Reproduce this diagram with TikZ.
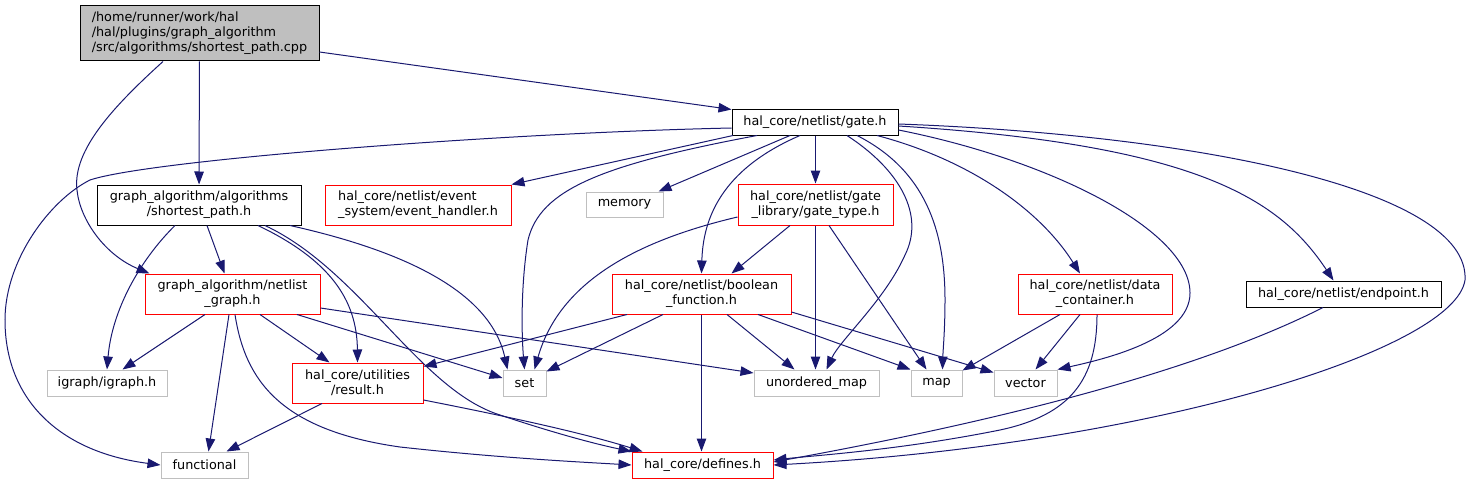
\documentclass[tikz,border=0pt]{standalone}
\usepackage{fontspec}
\setmainfont{DejaVu Sans}
\usetikzlibrary{arrows.meta,calc}

\definecolor{edgeblue}{RGB}{25,25,112}
\definecolor{boxgray}{RGB}{191,191,191}
\definecolor{hdrred}{RGB}{255,0,0}

\begin{document}
\begin{tikzpicture}[x=1pt,y=-1pt,
    file/.style={draw, rectangle, inner sep=0pt, line width=1pt, align=center,
        font=\fontsize{12.8}{15}\selectfont},
    known/.style={file, draw=black},
    partial/.style={file, draw=hdrred},
    system/.style={file, draw=boxgray},
    dep/.style={draw=edgeblue, line width=1pt, -{Triangle[length=13pt,width=9.5pt]}}]
    \useasboundingbox (0,0) rectangle (1474,484);

    % the source file and its headers
    \node[known, fill=boxgray, align=left, minimum width=239pt, minimum height=55pt] (cpp) at (199.5,33.5)
        {/home/runner/work/hal\\/hal/plugins/graph\_algorithm\\/src/algorithms/shortest\_path.cpp};
    \node[known, minimum width=166pt, minimum height=25pt] (gate) at (815,122.5) {hal\_core/netlist/gate.h};
    \node[known, minimum width=204pt, minimum height=40pt] (sp) at (199,205) {graph\_algorithm/algorithms\\/shortest\_path.h};
    \node[system, minimum width=77pt, minimum height=25pt] (memory) at (624.5,204.5) {memory};
    \node[partial, minimum width=155pt, minimum height=41pt] (gatetype) at (815.5,204.5) {hal\_core/netlist/gate\\\_library/gate\_type.h};
    \node[partial, minimum width=175pt, minimum height=40pt] (ng) at (232.5,294) {graph\_algorithm/netlist\\\_graph.h};
    \node[partial, minimum width=179pt, minimum height=40pt] (bool) at (701.5,294) {hal\_core/netlist/boolean\\\_function.h};
    \node[partial, minimum width=154pt, minimum height=40pt] (data) at (1095,294) {hal\_core/netlist/data\\\_container.h};
    \node[known, minimum width=195pt, minimum height=26pt] (endpoint) at (1343.5,294) {hal\_core/netlist/endpoint.h};
    \node[system, minimum width=120pt, minimum height=26pt] (igraph) at (107,383) {igraph/igraph.h};
    \node[partial, minimum width=131pt, minimum height=40pt] (result) at (357.5,383) {hal\_core/utilities\\/result.h};
    \node[system, minimum width=43pt, minimum height=26pt] (set) at (524.5,383) {set};
    \node[system, minimum width=125pt, minimum height=26pt] (umap) at (816.5,383) {unordered\_map};
    \node[system, minimum width=51pt, minimum height=26pt] (map) at (936.5,383) {map};
    \node[system, minimum width=63pt, minimum height=26pt] (vector) at (1025.5,383) {vector};
    \node[system, minimum width=87pt, minimum height=26pt] (functional) at (204.5,465) {functional};
    \node[partial, minimum width=141pt, minimum height=26pt] (defines) at (702.5,465) {hal\_core/defines.h};
    \node[partial, align=left, minimum width=186pt, minimum height=40pt] (evt) at (418,205)
        {hal\_core/netlist/event\\\_system/event\_handler.h};

    % includes of the source file
    \draw[dep] (cpp.east |- 0,52) -- (gate.north west);
    \draw[dep] (cpp) -- (sp);
    \draw[dep] (cpp.south -| 163,0) .. controls (115,105) and (72,150) .. (77,190)
        .. controls (80,220) and (105,255) .. ($(ng.north west)+(5,0)$);

    % includes of gate.h
    \draw[dep] (gate.west |- 0,128) .. controls (500,133) and (150,160) .. (90,180)
        .. controls (50,200) and (5,260) .. (5,320) .. controls (5,400) and (60,452) .. (functional.west);
    \draw[dep] (gate.south -| 733,0) -- (evt.north east);
    \draw[dep] (gate.south -| 790,0) -- ($(memory.north east)+(-5,0)$);
    \draw[dep] (gate.south -| 757,0) .. controls (600,165) and (540,190) .. (528,240)
        .. controls (520,290) and (522,340) .. (set.north);
    \draw[dep] (gate.south -| 800,0) .. controls (720,170) and (703,220) .. (bool.north);
    \draw[dep] (gate.south -| 815.5,0) -- (gatetype.north);
    \draw[dep] (gate.south -| 847,0) .. controls (900,170) and (925,215) .. (905,255)
        .. controls (885,300) and (840,340) .. ($(umap.north)+(10,0)$);
    \draw[dep] (gate.south -| 857,0) .. controls (925,170) and (945,230) .. (945,300)
        .. controls (945,330) and (943,350) .. ($(map.north)+(6,0)$);
    \draw[dep] (gate.south -| 877,0) .. controls (970,160) and (1040,210) .. ($(data.north)+(-15,0)$);
    \draw[dep] (gate.east |- 0,130) .. controls (1050,160) and (1190,230) .. (1190,293)
        .. controls (1190,340) and (1100,360) .. (vector.north east);
    \draw[dep] (gate.east |- 0,126) .. controls (1200,145) and (1280,200) .. ($(endpoint.north)+(-10,0)$);
    \draw[dep] (gate.east |- 0,124) .. controls (1200,135) and (1470,190) .. (1465,280)
        .. controls (1455,350) and (1150,445) .. (defines.east);

    % includes of shortest_path.h
    \draw[dep] (sp.south -| 207,0) -- ($(ng.north)+(-8,0)$);
    \draw[dep] (sp.south -| 175,0) .. controls (140,260) and (112,310) .. (igraph.north);
    \draw[dep] (sp.south -| 258,0) .. controls (330,260) and (357,300) .. (result.north);
    \draw[dep] (sp.south -| 265,0) .. controls (360,270) and (420,390) .. (500,415)
        .. controls (560,435) and (600,445) .. (defines.north west);
    \draw[dep] (sp.south -| 290,0) .. controls (400,250) and (490,290) .. ($(set.north west)+(5,0)$);

    % includes of netlist_graph.h
    \draw[dep] (ng.south -| 205,0) -- ($(igraph.north east)+(-45,0)$);
    \draw[dep] (ng.south -| 229,0) -- ($(functional.north)+(4,0)$);
    \draw[dep] (ng.south -| 260,0) -- ($(result.north west)+(38,0)$);
    \draw[dep] (ng.south -| 297,0) -- ($(set.west)+(0,-5)$);
    \draw[dep] (ng.east |- 0,308) -- (umap.west |- 0,373);
    \draw[dep] (ng.south -| 235,0) .. controls (245,380) and (280,430) .. (400,447)
        .. controls (500,458) and (580,462) .. (defines.west);

    % includes of result.h
    \draw[dep] (result.south -| 322,0) -- ($(functional.north)+(22,0)$);
    \draw[dep] (result.east |- 0,400) .. controls (500,415) and (580,432) .. ($(defines.north west)+(11,0)$);

    % includes of gate_type.h
    \draw[dep] (gatetype.south -| 790,0) -- ($(bool.north)+(30,0)$);
    \draw[dep] (gatetype.west |- 0,217) .. controls (640,240) and (560,280) .. ($(set.north)+(10,0)$);
    \draw[dep] (gatetype.south) -- (gatetype.south |- umap.north);
    \draw[dep] (gatetype.south -| 829,0) -- ($(map.north)+(-10,0)$);

    % includes of boolean_function.h
    \draw[dep] (bool.south -| 627,0) -- ($(result.north east)+(0,4)$);
    \draw[dep] (bool.south -| 663,0) -- ($(set.north east)+(0,2)$);
    \draw[dep] (bool.south) -- (bool.south |- defines.north);
    \draw[dep] (bool.south -| 727,0) -- ($(umap.north)+(-22,0)$);
    \draw[dep] (bool.south -| 758,0) -- (map.north west);
    \draw[dep] (bool.east |- 0,312) -- ($(vector.north west)+(0,3)$);

    % includes of data_container.h and endpoint.h
    \draw[dep] (data.south -| 1060,0) -- ($(map.north east)+(0,1)$);
    \draw[dep] (data.south -| 1080,0) -- ($(vector.north)+(10,0)$);
    \draw[dep] (data.south -| 1097,0) .. controls (1097,380) and (1070,415) .. (1000,430)
        .. controls (900,450) and (820,455) .. ($(defines.east)+(0,-5)$);
    \draw[dep] (endpoint.south -| 1323,0) .. controls (1180,380) and (950,430) .. ($(defines.east)+(0,-3)$);
\end{tikzpicture}
\end{document}
